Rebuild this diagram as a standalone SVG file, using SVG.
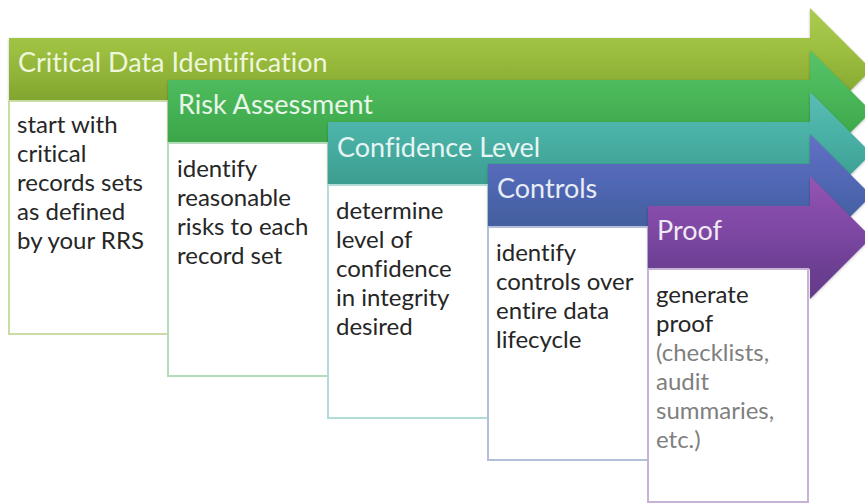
<svg xmlns="http://www.w3.org/2000/svg" width="865" height="504" viewBox="0 0 865 504">
  <defs>
    <linearGradient id="gOlive" x1="0" y1="0" x2="0" y2="1">
      <stop offset="0" stop-color="#abcb50"/>
      <stop offset="0.35" stop-color="#9cbf40"/>
      <stop offset="0.75" stop-color="#82a52f"/>
      <stop offset="1" stop-color="#7a9c2b"/>
    </linearGradient>
    <linearGradient id="gGreen" x1="0" y1="0" x2="0" y2="1">
      <stop offset="0" stop-color="#58c36a"/>
      <stop offset="0.35" stop-color="#4ab759"/>
      <stop offset="0.75" stop-color="#3ba649"/>
      <stop offset="1" stop-color="#359a42"/>
    </linearGradient>
    <linearGradient id="gTeal" x1="0" y1="0" x2="0" y2="1">
      <stop offset="0" stop-color="#5abdb5"/>
      <stop offset="0.35" stop-color="#4ab1a6"/>
      <stop offset="0.75" stop-color="#3b9d90"/>
      <stop offset="1" stop-color="#359186"/>
    </linearGradient>
    <linearGradient id="gBlue" x1="0" y1="0" x2="0" y2="1">
      <stop offset="0" stop-color="#6370c4"/>
      <stop offset="0.35" stop-color="#5268b6"/>
      <stop offset="0.75" stop-color="#435f9f"/>
      <stop offset="1" stop-color="#3d5893"/>
    </linearGradient>
    <linearGradient id="gPurple" x1="0" y1="0" x2="0" y2="1">
      <stop offset="0" stop-color="#9555b2"/>
      <stop offset="0.35" stop-color="#834aa8"/>
      <stop offset="0.75" stop-color="#6c3f93"/>
      <stop offset="1" stop-color="#633a88"/>
    </linearGradient>
    <filter id="soft" x="-5%" y="-10%" width="110%" height="120%">
      <feGaussianBlur in="SourceAlpha" stdDeviation="1.5"/>
      <feOffset dx="0" dy="1" result="b"/>
      <feComponentTransfer><feFuncA type="linear" slope="0.25"/></feComponentTransfer>
      <feMerge><feMergeNode/><feMergeNode in="SourceGraphic"/></feMerge>
    </filter>
  </defs>
  <style>
    text { font-variant-ligatures: none; }
    .head { font-family: Lato, "Open Sans", "Liberation Sans", sans-serif; font-size: 27px; }
    .body { font-family: Lato, "Open Sans", "Liberation Sans", sans-serif; font-size: 24px; fill: #262626; }
    .muted { fill: #7f7f7f; }
    .card { fill: #ffffff; stroke-width: 2; }
  </style>

  <rect width="865" height="504" fill="#ffffff"/>

  <!-- Stage 1 -->
  <g id="stage-critical-data">
    <path d="M9,38 H810 V8 L871.5,69.5 L810,131 V101 H9 Z" fill="url(#gOlive)" filter="url(#soft)"/>
    <text class="head" x="18" y="72" fill="#eef6dc">Critical Data Identification</text>
    <rect class="card" x="9" y="101" width="159" height="233" stroke="#c9dca6"/>
    <text class="body" x="17" y="133">
      <tspan x="17">start with</tspan>
      <tspan x="17" dy="29">critical</tspan>
      <tspan x="17" dy="29">records sets</tspan>
      <tspan x="17" dy="29">as defined</tspan>
      <tspan x="17" dy="29">by your RRS</tspan>
    </text>
  </g>

  <!-- Stage 2 -->
  <g id="stage-risk-assessment">
    <path d="M168,80 H810 V50 L871.5,111.5 L810,173 V143 H168 Z" fill="url(#gGreen)" filter="url(#soft)"/>
    <text class="head" x="178" y="114" fill="#e8f6ea">Risk Assessment</text>
    <rect class="card" x="168" y="143" width="160" height="233" stroke="#b3dcbb"/>
    <text class="body" x="177" y="177">
      <tspan x="177">identify</tspan>
      <tspan x="177" dy="29">reasonable</tspan>
      <tspan x="177" dy="29">risks to each</tspan>
      <tspan x="177" dy="29">record set</tspan>
    </text>
  </g>

  <!-- Stage 3 -->
  <g id="stage-confidence-level">
    <path d="M328,122 H810 V92 L871.5,153.5 L810,215 V185 H328 Z" fill="url(#gTeal)" filter="url(#soft)"/>
    <text class="head" x="337" y="157" fill="#e6f5f3">Confidence Level</text>
    <rect class="card" x="328" y="185" width="160" height="233" stroke="#b1dcd7"/>
    <text class="body" x="336" y="219">
      <tspan x="336">determine</tspan>
      <tspan x="336" dy="29">level of</tspan>
      <tspan x="336" dy="29">confidence</tspan>
      <tspan x="336" dy="29">in integrity</tspan>
      <tspan x="336" dy="29">desired</tspan>
    </text>
  </g>

  <!-- Stage 4 -->
  <g id="stage-controls">
    <path d="M488,164 H810 V134 L871.5,195.5 L810,257 V227 H488 Z" fill="url(#gBlue)" filter="url(#soft)"/>
    <text class="head" x="497" y="198" fill="#e9ecf7">Controls</text>
    <rect class="card" x="488" y="227" width="160" height="233" stroke="#b3bfd9"/>
    <text class="body" x="496" y="261">
      <tspan x="496">identify</tspan>
      <tspan x="496" dy="29">controls over</tspan>
      <tspan x="496" dy="29">entire data</tspan>
      <tspan x="496" dy="29">lifecycle</tspan>
    </text>
  </g>

  <!-- Stage 5 -->
  <g id="stage-proof">
    <path d="M648,206 H810 V176 L871.5,237.5 L810,299 V269 H648 Z" fill="url(#gPurple)" filter="url(#soft)"/>
    <text class="head" x="657" y="240" fill="#f1e8f5">Proof</text>
    <rect class="card" x="648" y="269" width="160" height="233" stroke="#c6b3d6"/>
    <text class="body" x="656" y="303">
      <tspan x="656">generate</tspan>
      <tspan x="656" dy="29">proof</tspan>
      <tspan x="656" dy="29" class="muted">(checklists,</tspan>
      <tspan x="656" dy="29" class="muted">audit</tspan>
      <tspan x="656" dy="29" class="muted">summaries,</tspan>
      <tspan x="656" dy="29" class="muted">etc.)</tspan>
    </text>
  </g>

  <!-- flow is carried by the arrow shapes themselves -->
  <g id="connectors"/>
</svg>
